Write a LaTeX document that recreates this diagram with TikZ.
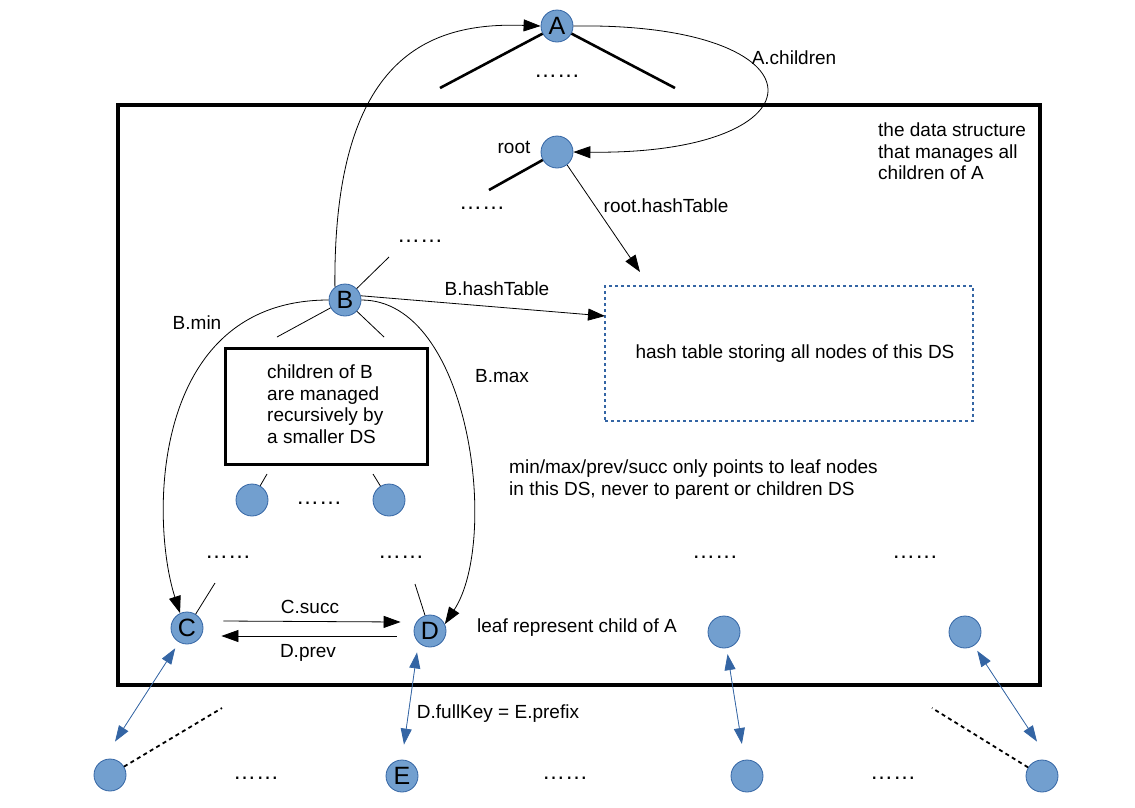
\documentclass[tikz,border=0pt]{standalone}
\usepackage{fontspec}
\setmainfont{Liberation Sans}
\usetikzlibrary{arrows.meta}
\definecolor{nodefill}{HTML}{729FCF}
\definecolor{nodeline}{HTML}{3465A4}
\begin{document}
\begin{tikzpicture}[x=1pt,y=-1pt,
 dot/.style={circle,fill=nodefill,draw=nodeline,line width=0.8pt,minimum size=32pt,inner sep=0pt,font=\fontsize{25}{25}\selectfont},
 lbl/.style={font=\fontsize{19}{21.5}\selectfont,inner sep=0pt},
 dots/.style={font=\fontsize{23}{23}\selectfont,inner sep=0pt},
 thinln/.style={line width=0.8pt},
 arr/.style={line width=0.8pt,-{Triangle[length=17pt,width=12pt]}},
 barr/.style={line width=0.8pt,draw=nodeline,{Triangle[length=16pt,width=11pt]}-{Triangle[length=16pt,width=11pt]},fill=nodeline},
 tree/.style={line width=2.6pt},
 dline/.style={line width=1.8pt,dash pattern=on 4pt off 3.5pt},
]
\useasboundingbox (0,0) rectangle (1135,807);

% main box
\draw[line width=4pt] (118,105) rectangle (1040,685);

% nodes
\node[dot] (A) at (557,26) {A};
\node[dot] (root) at (557,152) {};
\node[dot] (B) at (345,300) {B};
\node[dot] (s1) at (252,500) {};
\node[dot] (s2) at (389,500) {};
\node[dot] (C) at (187,628) {C};
\node[dot] (D) at (430,631) {D};
\node[dot] (L1) at (724,632) {};
\node[dot] (L2) at (965,632) {};
\node[dot] (b1) at (110,775) {};
\node[dot] (E) at (402,776) {E};
\node[dot] (b3) at (747,776) {};
\node[dot] (b4) at (1042,776) {};

\node[draw,line width=3pt,minimum width=202pt,minimum height=116pt,inner sep=0pt] (inner) at (326,406) {};
\node[draw=nodeline,line width=1.5pt,dash pattern=on 3pt off 3pt,minimum width=368pt,minimum height=135pt,inner sep=0pt] (hash) at (789,353.5) {};

% texts
\node[lbl] (troot) at (514,147) {root};
\node[lbl] (tachildren) at (794,58) {A.children};
\node[lbl] (trht) at (666,206) {root.hashTable};
\node[lbl] (tbht) at (497,289) {B.hashTable};
\node[lbl] (tbmin) at (197,323) {B.min};
\node[lbl] (tbmax) at (502,376) {B.max};
\node[lbl] (tcsucc) at (310,607) {C.succ};
\node[lbl] (tdprev) at (308,653) {D.prev};
\node[lbl] (tleaf) at (577,628) {leaf represent child of A};
\node[lbl] (tfull) at (498,714) {D.fullKey = E.prefix};
\node[lbl] (thash) at (795,354) {hash table storing all nodes of this DS};
\node[lbl,align=left,anchor=north west] (tds) at (878,123) {the data structure\\that manages all\\children of A};
\node[lbl,align=left,anchor=north west] (tinner) at (267,365) {children of B\\are managed\\recursively by\\a smaller DS};
\node[lbl,align=left,anchor=north west] (tmm) at (509,460) {min/max/prev/succ only points to leaf nodes\\in this DS, never to parent or children DS};

% dots
\node[dots] (d1) at (557,76) {……};
\node[dots] (d2) at (482,208) {……};
\node[dots] (d3) at (420,241) {……};
\node[dots] (d4) at (319,503) {……};
\node[dots] (d5) at (228,557) {……};
\node[dots] (d6) at (401,557) {……};
\node[dots] (d7) at (715,557) {……};
\node[dots] (d8) at (915,557) {……};
\node[dots] (d9) at (256,778) {……};
\node[dots] (d10) at (565,778) {……};
\node[dots] (d11) at (893,778) {……};

% free ends
\coordinate (ta1) at (440,88);
\coordinate (ta2) at (675,88);
\coordinate (tr1) at (489,190);
\coordinate (tb1) at (389,257);
\coordinate (tb2) at (277,337);
\coordinate (tb3) at (384,337);
\coordinate (ts1) at (267,474);
\coordinate (ts2) at (373,474);
\coordinate (tc1) at (215,583);
\coordinate (td1) at (415,584);
\coordinate (ht) at (640,272);
\coordinate (hbin) at (605,316);
\coordinate (dl1) at (222,708);
\coordinate (dl2) at (932,708);

% tree lines
\draw[tree] (A) -- (ta1);
\draw[tree] (A) -- (ta2);
\draw[tree] (root) -- (tr1);
\draw[thinln] (B) -- (tb1);
\draw[thinln] (B) -- (tb2);
\draw[thinln] (B) -- (tb3);
\draw[thinln] (s1) -- (ts1);
\draw[thinln] (s2) -- (ts2);
\draw[thinln] (C) -- (tc1);
\draw[thinln] (D) -- (td1);

% arrows
\draw[arr] (B.128) .. controls (333,55) and (430,22) .. (A.west);
\draw[arr] (A.east) .. controls (830,22) and (830,155) .. (root.east);
\draw[arr] (root.-52) -- (ht);
\draw[arr] (B.15) -- (hbin);
\draw[arr] (B.west) .. controls (150,300) and (150,520) .. (C.115);
\draw[arr] (B.east) .. controls (470,300) and (500,540) .. (D.25);
\draw[arr] ([xshift=20pt,yshift=7pt]C.east) -- ([xshift=-13pt,yshift=9pt]D.west);
\draw[arr] ([xshift=-17pt,yshift=-5pt]D.west) -- ([xshift=18pt,yshift=-8pt]C.east);

% blue double arrows
\draw[barr,shorten <=7pt] (C.-119) -- ([xshift=5pt,yshift=17pt]b1.north);
\draw[barr] ([xshift=-13pt,yshift=-5pt]D.south) -- ([xshift=2pt,yshift=15pt]E.north);
\draw[barr,shorten <=6pt,shorten >=16pt] (L1) -- (b3);
\draw[barr,shorten <=6pt] (L2.-57) -- ([xshift=-5pt,yshift=18pt]b4.north);

% dashed lines
\draw[dline] (b1) -- (dl1);
\draw[dline] (b4) -- (dl2);
\end{tikzpicture}
\end{document}
